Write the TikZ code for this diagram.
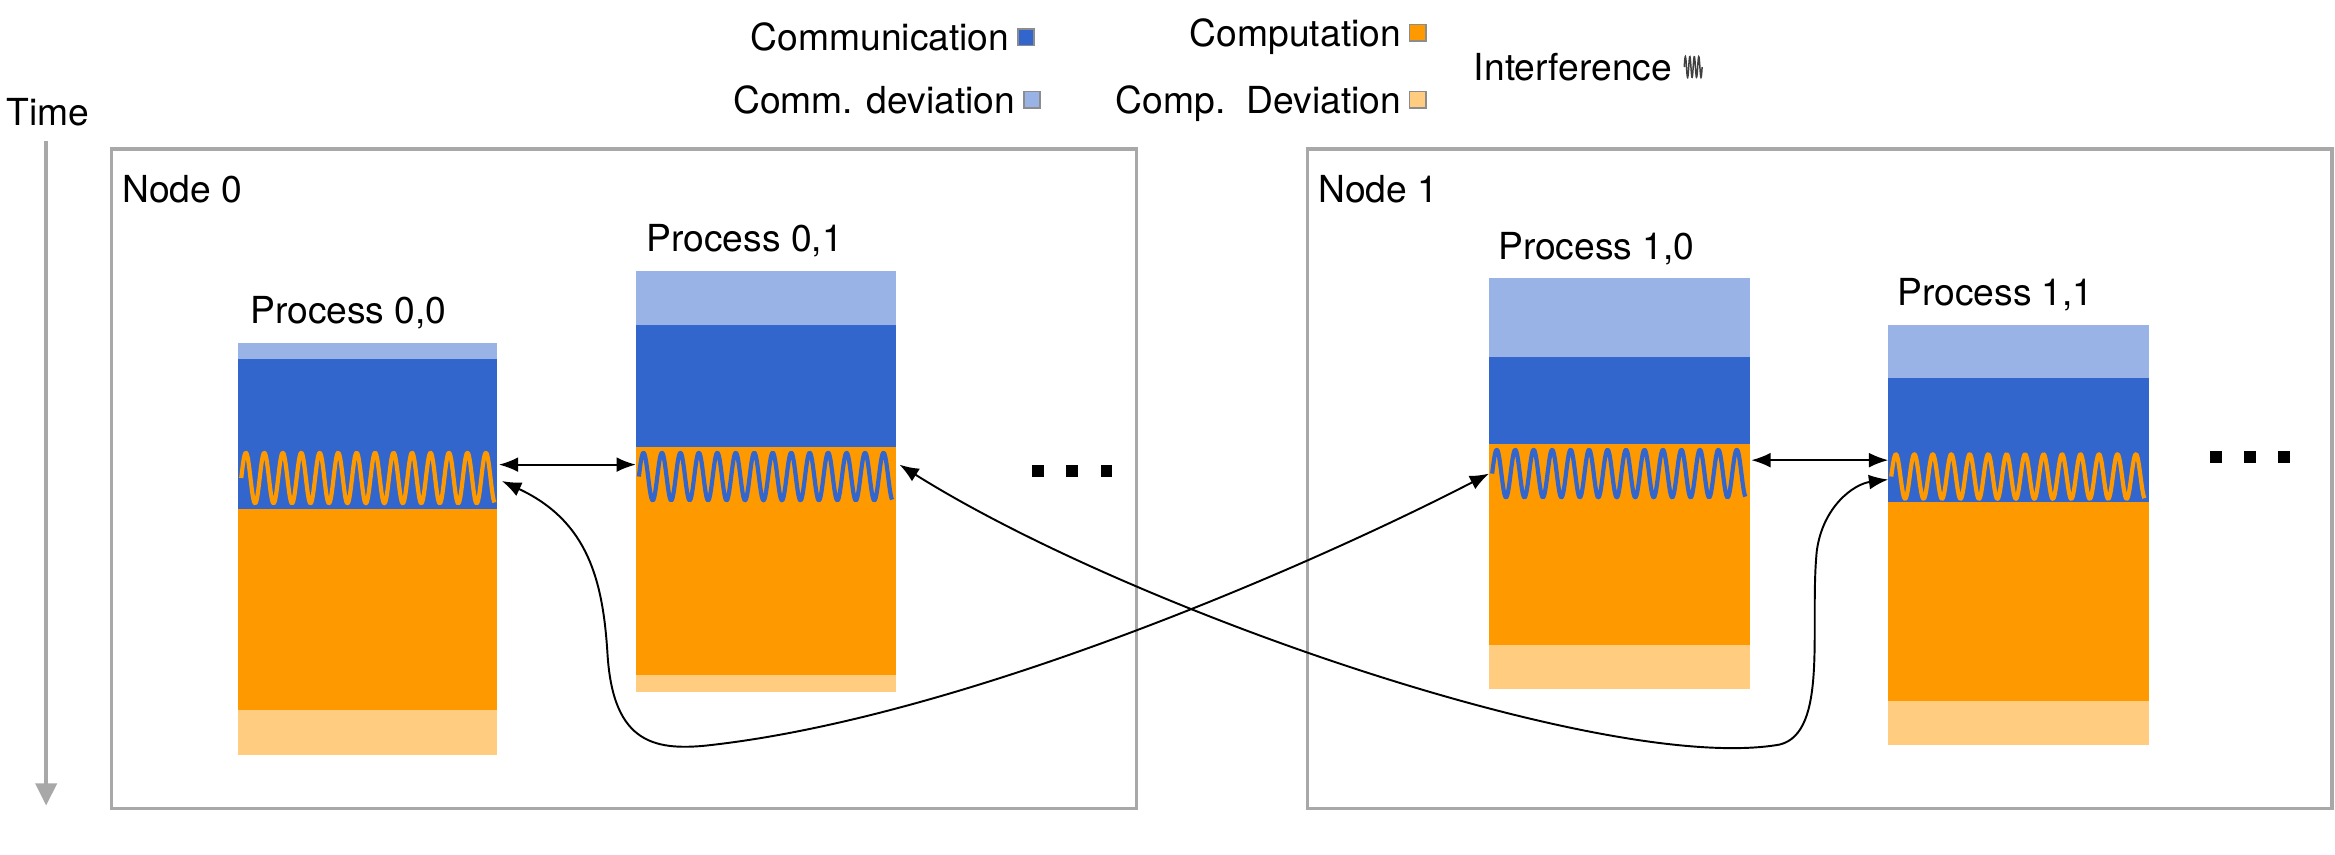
\documentclass[tikz,border=0pt]{standalone}
\usepackage{fontspec}
\setmainfont{TeX Gyre Heros}
\usetikzlibrary{arrows.meta}
\definecolor{comm}{HTML}{3366CC}
\definecolor{commdev}{HTML}{99B3E6}
\definecolor{comp}{HTML}{FF9900}
\definecolor{compdev}{HTML}{FFCC80}
\definecolor{framegray}{HTML}{A8A8A8}
\definecolor{sqgray}{HTML}{8C8C8C}
\begin{document}
\begin{tikzpicture}[x=1pt,y=-1pt,
  lbl/.style={font=\fontsize{25}{30}\selectfont, inner sep=0pt},
  framebox/.style={draw=framegray, line width=2.2pt},
  conn/.style={black, line width=1.3pt, {Latex[length=13pt,width=10pt]}-{Latex[length=13pt,width=10pt]}},
  legsq/.style={draw=sqgray, line width=1.2pt, minimum size=11pt, inner sep=0pt},
  dotsq/.style={fill=black, minimum size=8pt, inner sep=0pt},
  wave/.style={line width=2.8pt, line join=round}]
\useasboundingbox (0,0) rectangle (1568,573.5);

% legend
\node[lbl, anchor=base east] (lcomm) at (678,34) {Communication};
\node[legsq, fill=comm] (scomm) at (689,25) {};
\node[lbl, anchor=base east] (lcommdev) at (682,76) {Comm. deviation};
\node[legsq, fill=commdev] (scommdev) at (693,67) {};
\node[lbl, anchor=base east] (lcomp) at (941,31) {Computation};
\node[legsq, fill=comp] (scomp) at (952,22) {};
\node[lbl, anchor=base east] (lcompdev) at (941,76) {Comp.\ \ Deviation};
\node[legsq, fill=compdev] (scompdev) at (952,67) {};
\node[lbl, anchor=base east] (linter) at (1123,54) {Interference};
\draw[black!75, line width=1pt] plot[domain=0:12, samples=80] ({1131+\x}, {45 - 7*sin(\x/3*360)});

% time axis
\node[lbl, anchor=base west] (ltime) at (4,84) {Time};
\coordinate (tstart) at (31,95);
\coordinate (tend) at (31,541);
\draw[framegray, line width=3pt, -{Triangle[length=15pt,width=14pt]}] (tstart) -- (tend);

% node frames
\draw[framebox] (75,100) rectangle (763,543);
\draw[framebox] (878,100) rectangle (1566,543);
\node[lbl, anchor=base west] (n0) at (82,136) {Node 0};
\node[lbl, anchor=base west] (n1) at (885,136) {Node 1};

% Process 0,0
\fill[commdev] (160,230) rectangle (334,241);
\fill[comm] (160,241) rectangle (334,342);
\fill[comp] (160,342) rectangle (334,477);
\fill[compdev] (160,477) rectangle (334,507);
\draw[comp, wave] plot[domain=0:170, samples=400] ({162+\x}, {321 - 17*sin(\x/12.4*360)});
\node[lbl, anchor=base] (lp00) at (234,217) {Process 0,0};

% Process 0,1
\fill[commdev] (427,182) rectangle (602,218);
\fill[comm] (427,218) rectangle (602,300);
\fill[comp] (427,300) rectangle (602,453);
\fill[compdev] (427,453) rectangle (602,465);
\draw[comm, wave] plot[domain=0:170, samples=400] ({429+\x}, {320 - 16*sin(\x/12.4*360)});
\node[lbl, anchor=base] (lp01) at (500,169) {Process 0,1};

% Process 1,0
\fill[commdev] (1000,187) rectangle (1175,240);
\fill[comm] (1000,240) rectangle (1175,298);
\fill[comp] (1000,298) rectangle (1175,433);
\fill[compdev] (1000,433) rectangle (1175,463);
\draw[comm, wave] plot[domain=0:170, samples=400] ({1002+\x}, {318 - 16*sin(\x/12.4*360)});
\node[lbl, anchor=base] (lp10) at (1072,174) {Process 1,0};

% Process 1,1
\fill[commdev] (1268,218) rectangle (1443,254);
\fill[comm] (1268,254) rectangle (1443,337);
\fill[comp] (1268,337) rectangle (1443,471);
\fill[compdev] (1268,471) rectangle (1443,500);
\draw[comp, wave] plot[domain=0:170, samples=400] ({1270+\x}, {320 - 15*sin(\x/12.4*360)});
\node[lbl, anchor=base] (lp11) at (1340,205) {Process 1,1};

% dots
\node[dotsq] (d1) at (697,316) {};
\node[dotsq] (d2) at (720,316) {};
\node[dotsq] (d3) at (743,316) {};
\node[dotsq] (d4) at (1488,307) {};
\node[dotsq] (d5) at (1511,307) {};
\node[dotsq] (d6) at (1534,307) {};

% connection points
\coordinate (p00r) at (335,312);
\coordinate (p01l) at (427,312);
\coordinate (p10r) at (1176,309);
\coordinate (p11l) at (1268,309);
\coordinate (p00c) at (337,323);
\coordinate (p10c) at (1000,318);
\coordinate (p01c) at (604,312);
\coordinate (p11c) at (1268,322);

\draw[conn] (p00r) -- (p01l);
\draw[conn] (p10r) -- (p11l);
\draw[conn] (p00c) .. controls (395,350) and (405,390) .. (408,440)
  .. controls (412,500) and (440,505) .. (480,500)
  .. controls (650,480) and (880,380) .. (p10c);
\draw[conn] (p01c) .. controls (760,410) and (1080,520) .. (1195,500)
  .. controls (1228,492) and (1215,420) .. (1220,370)
  .. controls (1224,340) and (1245,325) .. (p11c);
\end{tikzpicture}
\end{document}
